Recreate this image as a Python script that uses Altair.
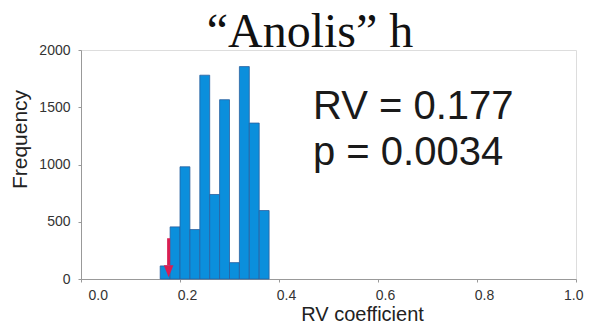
import altair as alt
import pandas as pd

bin_start = [0.16, 0.18, 0.20, 0.22, 0.24, 0.26, 0.28, 0.30, 0.32, 0.34, 0.36]
bin_width = 0.02
counts = [114, 455, 980, 432, 1780, 738, 1566, 143, 1855, 1362, 598]

observed_rv = 0.177
arrow_top = 356
arrow_head = 67
p_value = "0.0034"

bars = pd.DataFrame({
    "start": bin_start,
    "end": [s + bin_width for s in bin_start],
    "count": counts,
})
arrow = pd.DataFrame({"rv": [observed_rv], "top": [arrow_top], "bottom": [120], "head": [arrow_head]})

x_scale = alt.Scale(domain=[0, 1], nice=False, zero=False)
y_scale = alt.Scale(domain=[0, 2000], nice=False)

hist = alt.Chart(bars).mark_rect(
    fill="#0b8fdc", stroke="#2a5f9e", strokeWidth=0.8
).encode(
    x=alt.X("start:Q", scale=x_scale, axis=alt.Axis(
        title="RV coefficient", values=[0, 0.2, 0.4, 0.6, 0.8, 1.0], format=".1f",
        titleX=281, titleY=41, titleBaseline="alphabetic", titleAlign="center",
        titleFontSize=20, titleFont="Liberation Sans", titleFontWeight="normal", titleColor="#222",
        labelFont="Liberation Sans", labelFontSize=14, labelColor="#333", labelOffset=7, labelPadding=6,
        domainColor="#999", tickColor="#999", tickSize=3, grid=False,
    )),
    x2="end:Q",
    y=alt.Y("count:Q", scale=y_scale, axis=alt.Axis(
        title="Frequency", values=[0, 500, 1000, 1500, 2000], format="d",
        titleX=-55, titleY=89, titleBaseline="alphabetic", titleAlign="center",
        titleFontSize=21, titleFont="Liberation Sans", titleFontWeight="normal", titleColor="#222",
        labelFont="Liberation Sans", labelFontSize=14, labelColor="#333", labelPadding=8,
        domainColor="#999", tickColor="#999", tickSize=3, grid=False,
    )),
    y2=alt.datum(0),
)

shaft = alt.Chart(arrow).mark_rule(color="#d91e52", strokeWidth=3).encode(
    x="rv:Q", y="top:Q", y2="bottom:Q"
)
head = alt.Chart(arrow).mark_point(
    shape="M-0.8,-1L0.8,-1L0,1Z", filled=True, color="#d91e52", size=144, opacity=1
).encode(x="rv:Q", y="head:Q")

title = alt.Chart(pd.DataFrame({"t": ["\u201cAnolis\u201d h"]})).mark_text(
    font="Liberation Serif", fontSize=48, align="center", baseline="alphabetic", color="#111"
).encode(text="t:N", x=alt.value(229), y=alt.value(-3))

stats = alt.Chart(pd.DataFrame({"t": [f"RV = {observed_rv}", f"p = {p_value}"], "yy": [69, 115]})).mark_text(
    font="Liberation Sans", fontSize=40, align="left", baseline="alphabetic", color="#1a1a1a"
).encode(text="t:N", x=alt.value(232), y=alt.Y("yy:Q", scale=None))

chart = alt.layer(hist, shaft, head, title, stats).properties(
    width=495, height=229,
    autosize=alt.AutoSizeParams(type="none"),
    padding={"left": 73, "top": 42, "right": 12, "bottom": 45},
).configure_view(stroke=None).configure(background="white")

chart.save("out.html", embed_options={"renderer": "svg", "actions": False})
